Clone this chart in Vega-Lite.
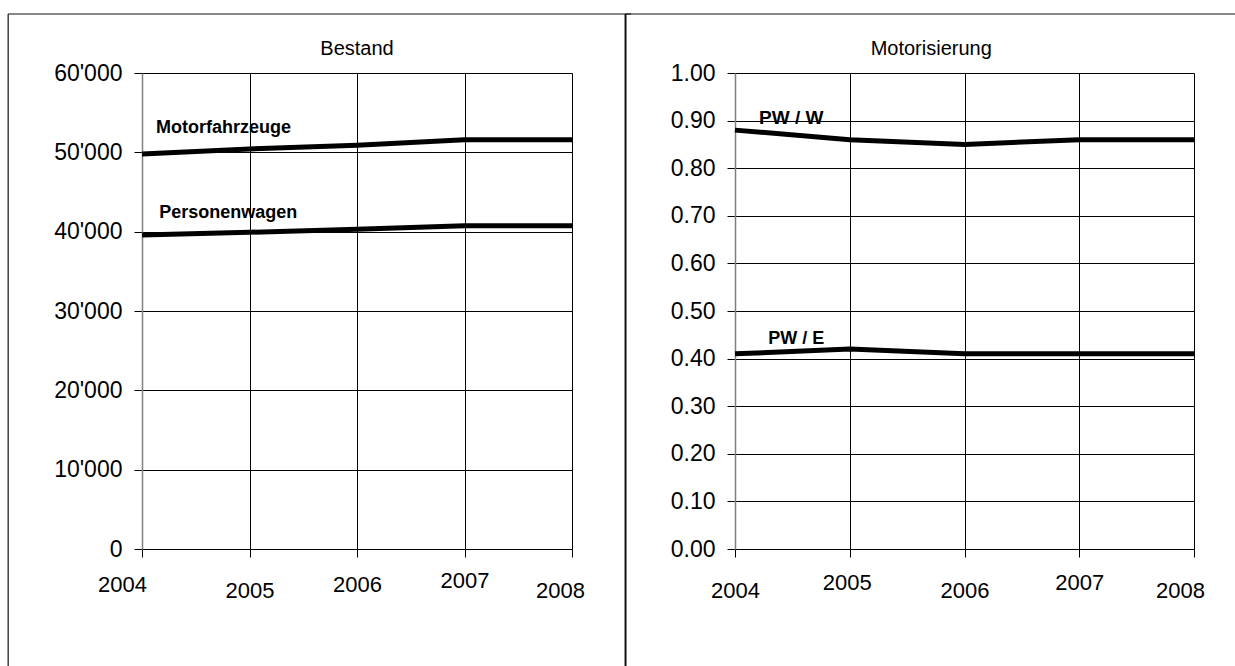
{
  "$schema": "https://vega.github.io/schema/vega-lite/v6.json",
  "background": "white",
  "padding": {"left": 7, "top": 12, "right": 0, "bottom": 0},
  "spacing": -8,
  "config": {
    "font": "Liberation Sans",
    "view": {"stroke": null},
    "axis": {"labelFont": "Liberation Sans", "labelColor": "black", "gridColor": "black", "gridWidth": 1, "tickColor": "black", "tickWidth": 1, "domainColor": "black", "title": null}
  },
  "datasets": {
    "bestand": [
      {"Jahr": 2004, "Kategorie": "Motorfahrzeuge", "Anzahl": 49800},
      {"Jahr": 2005, "Kategorie": "Motorfahrzeuge", "Anzahl": 50430},
      {"Jahr": 2006, "Kategorie": "Motorfahrzeuge", "Anzahl": 50890},
      {"Jahr": 2007, "Kategorie": "Motorfahrzeuge", "Anzahl": 51600},
      {"Jahr": 2008, "Kategorie": "Motorfahrzeuge", "Anzahl": 51600},
      {"Jahr": 2004, "Kategorie": "Personenwagen", "Anzahl": 39580},
      {"Jahr": 2005, "Kategorie": "Personenwagen", "Anzahl": 39920},
      {"Jahr": 2006, "Kategorie": "Personenwagen", "Anzahl": 40300},
      {"Jahr": 2007, "Kategorie": "Personenwagen", "Anzahl": 40760},
      {"Jahr": 2008, "Kategorie": "Personenwagen", "Anzahl": 40760}
    ],
    "motorisierung": [
      {"Jahr": 2004, "Kennzahl": "PW / W", "Wert": 0.88},
      {"Jahr": 2005, "Kennzahl": "PW / W", "Wert": 0.86},
      {"Jahr": 2006, "Kennzahl": "PW / W", "Wert": 0.85},
      {"Jahr": 2007, "Kennzahl": "PW / W", "Wert": 0.86},
      {"Jahr": 2008, "Kennzahl": "PW / W", "Wert": 0.86},
      {"Jahr": 2004, "Kennzahl": "PW / E", "Wert": 0.41},
      {"Jahr": 2005, "Kennzahl": "PW / E", "Wert": 0.42},
      {"Jahr": 2006, "Kennzahl": "PW / E", "Wert": 0.41},
      {"Jahr": 2007, "Kennzahl": "PW / E", "Wert": 0.41},
      {"Jahr": 2008, "Kennzahl": "PW / E", "Wert": 0.41}
    ]
  },
  "hconcat": [
    {
      "width": 430,
      "height": 476,
      "layer": [
        {
          "data": {"name": "bestand"},
          "mark": {"type": "line", "color": "black", "strokeWidth": 5, "strokeCap": "butt"},
          "encoding": {
            "x": {
              "field": "Jahr", "type": "quantitative",
              "scale": {"domain": [2004, 2008], "nice": false, "zero": false},
              "axis": {
                "values": [2004, 2005, 2006, 2007, 2008], "format": "d", "grid": true,
                "tickSize": 8, "labelFontSize": 22, "labelFlush": false,
                "labelPadding": {"condition": [{"test": "datum.value == 2005 || datum.value == 2008", "value": 23}, {"test": "datum.value == 2007", "value": 13}], "value": 17},
                "labelOffset": {"condition": [{"test": "datum.value == 2004", "value": -20}, {"test": "datum.value == 2008", "value": -12}], "value": 0}
              }
            },
            "y": {
              "field": "Anzahl", "type": "quantitative",
              "scale": {"domain": [0, 60000], "nice": false},
              "axis": {
                "values": [0, 5000, 10000, 15000, 20000, 25000, 30000, 35000, 40000, 45000, 50000, 55000, 60000],
                "grid": true, "tickSize": 8, "labelFontSize": 23, "labelPadding": 12,
                "domainColor": "#808080", "domainWidth": 1.5,
                "tickOpacity": {"condition": {"test": "datum.value % 10000 != 0", "value": 0}, "value": 1},
                "labelExpr": "datum.value % 10000 == 0 ? replace(format(datum.value, ','), ',', \"'\") : ''"
              }
            },
            "detail": {"field": "Kategorie"}
          }
        },
        {
          "data": {"values": [{"label": "Bestand"}]},
          "mark": {"type": "text", "fontSize": 20, "align": "center", "baseline": "alphabetic", "color": "black"},
          "encoding": {"x": {"datum": 2006}, "y": {"datum": 62300}, "text": {"field": "label"}}
        },
        {
          "data": {"values": [{"label": "Motorfahrzeuge"}]},
          "mark": {"type": "text", "fontSize": 18, "fontWeight": "bold", "align": "left", "baseline": "alphabetic", "color": "black"},
          "encoding": {"x": {"datum": 2004.13}, "y": {"datum": 52500}, "text": {"field": "label"}}
        },
        {
          "data": {"values": [{"label": "Personenwagen"}]},
          "mark": {"type": "text", "fontSize": 18, "fontWeight": "bold", "align": "left", "baseline": "alphabetic", "color": "black"},
          "encoding": {"x": {"datum": 2004.16}, "y": {"datum": 41700}, "text": {"field": "label"}}
        },
        {
          "data": {"values": [{}]},
          "mark": {"type": "rule", "color": "#111", "strokeWidth": 1.2},
          "encoding": {"x": {"datum": 2002.755}, "y": {"datum": 67437}, "y2": {"datum": -14750}}
        },
        {
          "data": {"values": [{}]},
          "mark": {"type": "rule", "color": "#111", "strokeWidth": 1.2},
          "encoding": {"y": {"datum": 67437}, "x": {"datum": 2002.755}, "x2": {"datum": 2008.549}}
        }
      ]
    },
    {
      "width": 459,
      "height": 476,
      "layer": [
        {
          "data": {"name": "motorisierung"},
          "mark": {"type": "line", "color": "black", "strokeWidth": 5, "strokeCap": "butt"},
          "encoding": {
            "x": {
              "field": "Jahr", "type": "quantitative",
              "scale": {"domain": [2004, 2008], "nice": false, "zero": false},
              "axis": {
                "values": [2004, 2005, 2006, 2007, 2008], "format": "d", "grid": true,
                "tickSize": 8, "labelFontSize": 22, "labelFlush": false,
                "labelPadding": {"condition": {"test": "datum.value == 2005 || datum.value == 2007", "value": 15}, "value": 23},
                "labelOffset": {"condition": [{"test": "datum.value == 2008", "value": -14}, {"test": "datum.value == 2005", "value": -3}], "value": 0}
              }
            },
            "y": {
              "field": "Wert", "type": "quantitative",
              "scale": {"domain": [0, 1], "nice": false},
              "axis": {
                "values": [0, 0.1, 0.2, 0.3, 0.4, 0.5, 0.6, 0.7, 0.8, 0.9, 1.0],
                "format": ".2f", "grid": true, "tickSize": 8, "labelFontSize": 23, "labelPadding": 12,
                "domainColor": "#808080", "domainWidth": 1.5
              }
            },
            "detail": {"field": "Kennzahl"}
          }
        },
        {
          "data": {"values": [{"label": "Motorisierung"}]},
          "mark": {"type": "text", "fontSize": 20, "align": "center", "baseline": "alphabetic", "color": "black"},
          "encoding": {"x": {"datum": 2005.71}, "y": {"datum": 1.038}, "text": {"field": "label"}}
        },
        {
          "data": {"values": [{"label": "PW / W"}]},
          "mark": {"type": "text", "fontSize": 19, "fontWeight": "bold", "align": "left", "baseline": "alphabetic", "color": "black"},
          "encoding": {"x": {"datum": 2004.21}, "y": {"datum": 0.893}, "text": {"field": "label"}}
        },
        {
          "data": {"values": [{"label": "PW / E"}]},
          "mark": {"type": "text", "fontSize": 18, "fontWeight": "bold", "align": "left", "baseline": "alphabetic", "color": "black"},
          "encoding": {"x": {"datum": 2004.29}, "y": {"datum": 0.430}, "text": {"field": "label"}}
        },
        {
          "data": {"values": [{}]},
          "mark": {"type": "rule", "color": "#111", "strokeWidth": 2},
          "encoding": {"x": {"datum": 2003.046}, "y": {"datum": 1.124}, "y2": {"datum": -0.246}}
        },
        {
          "data": {"values": [{}]},
          "mark": {"type": "rule", "color": "#111", "strokeWidth": 1.2},
          "encoding": {"y": {"datum": 1.124}, "x": {"datum": 2003.046}, "x2": {"datum": 2008.36}}
        }
      ]
    }
  ]
}
